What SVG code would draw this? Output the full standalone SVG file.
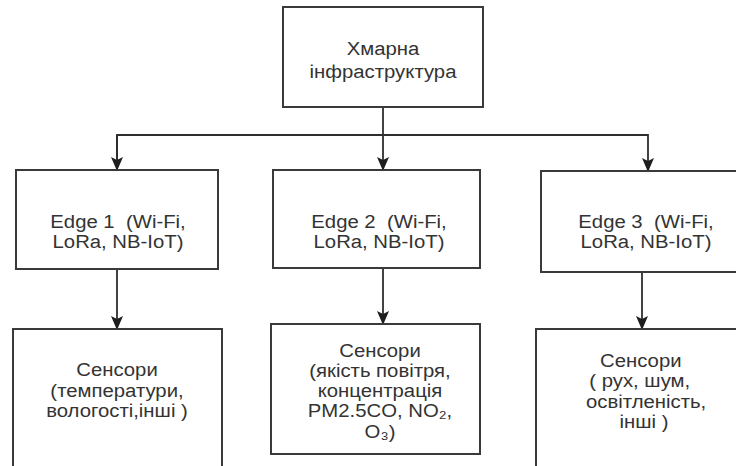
<svg xmlns="http://www.w3.org/2000/svg" width="736" height="466" viewBox="0 0 736 466">
  <style>
    .box { fill: #ffffff; stroke: #3a3a3a; stroke-width: 2; }
    .lbl { font-family: "Liberation Sans", Arial, sans-serif; font-size: 19px; fill: #333333; text-anchor: middle; }
    .wire { fill: none; stroke: #2e2e2e; stroke-width: 1.8; }
  </style>
  <defs>
    <marker id="arrow" viewBox="0 0 14 12" refX="13" refY="6" markerWidth="14" markerHeight="12" markerUnits="userSpaceOnUse" orient="auto">
      <path d="M0,0 L14,6 L0,12 L3,6 z" fill="#1e1e1e"/>
    </marker>
  </defs>
  <rect width="736" height="466" fill="#ffffff"/>

  <!-- connectors -->
  <g id="connectors">
    <path class="wire" d="M383,107 L383,170" marker-end="url(#arrow)"/>
    <path class="wire" d="M117,170 L117,135 L648,135 L648,171" marker-end="url(#arrow)"/>
    <path class="wire" d="M117,135 L117,170" marker-end="url(#arrow)"/>
    <path class="wire" d="M117,269 L117,329" marker-end="url(#arrow)"/>
    <path class="wire" d="M383,268 L383,324" marker-end="url(#arrow)"/>
    <path class="wire" d="M642,272 L642,329" marker-end="url(#arrow)"/>
  </g>

  <!-- cloud -->
  <g id="cloud">
    <rect class="box" x="283" y="7" width="200" height="100"/>
    <g transform="translate(383 0) scale(1.07 1)">
      <text class="lbl" x="0" y="55">Хмарна</text>
      <text class="lbl" x="0" y="78">інфраструктура</text>
    </g>
  </g>

  <!-- edge nodes -->
  <g id="edge1">
    <rect class="box" x="16" y="170" width="202" height="99"/>
    <g transform="translate(118 0) scale(1.07 1)">
      <text class="lbl" x="0" y="228" xml:space="preserve">Edge 1  (Wi-Fi,</text>
      <text class="lbl" x="0" y="248">LoRa, NB-IoT)</text>
    </g>
  </g>
  <g id="edge2">
    <rect class="box" x="273" y="170" width="207" height="98"/>
    <g transform="translate(379 0) scale(1.07 1)">
      <text class="lbl" x="0" y="228" xml:space="preserve">Edge 2  (Wi-Fi,</text>
      <text class="lbl" x="0" y="248">LoRa, NB-IoT)</text>
    </g>
  </g>
  <g id="edge3">
    <rect class="box" x="541" y="171" width="210" height="101"/>
    <g transform="translate(646 0) scale(1.07 1)">
      <text class="lbl" x="0" y="228" xml:space="preserve">Edge 3  (Wi-Fi,</text>
      <text class="lbl" x="0" y="248">LoRa, NB-IoT)</text>
    </g>
  </g>

  <!-- sensor nodes -->
  <g id="sensors1">
    <rect class="box" x="13" y="329" width="209" height="150"/>
    <g transform="translate(117 0) scale(1.07 1)">
      <text class="lbl" x="0" y="376">Сенсори</text>
      <text class="lbl" x="0" y="397">(температури,</text>
      <text class="lbl" x="0" y="417">вологості,інші )</text>
    </g>
  </g>
  <g id="sensors2">
    <rect class="box" x="271" y="324" width="209" height="130"/>
    <g transform="translate(380 0) scale(1.07 1)">
      <text class="lbl" x="0" y="357">Сенсори</text>
      <text class="lbl" x="0" y="377">(якість повітря,</text>
      <text class="lbl" x="0" y="397">концентрація</text>
      <text class="lbl" x="0" y="417">PM2.5CO, NO₂,</text>
      <text class="lbl" x="0" y="438">O₃)</text>
    </g>
  </g>
  <g id="sensors3">
    <rect class="box" x="536" y="329" width="215" height="150"/>
    <g transform="translate(644 0) scale(1.07 1)">
      <text class="lbl" x="-3" y="367">Сенсори</text>
      <text class="lbl" x="-4" y="387">( рух, шум,</text>
      <text class="lbl" x="2" y="408">освітленість,</text>
      <text class="lbl" x="0" y="428">інші )</text>
    </g>
  </g>
</svg>
